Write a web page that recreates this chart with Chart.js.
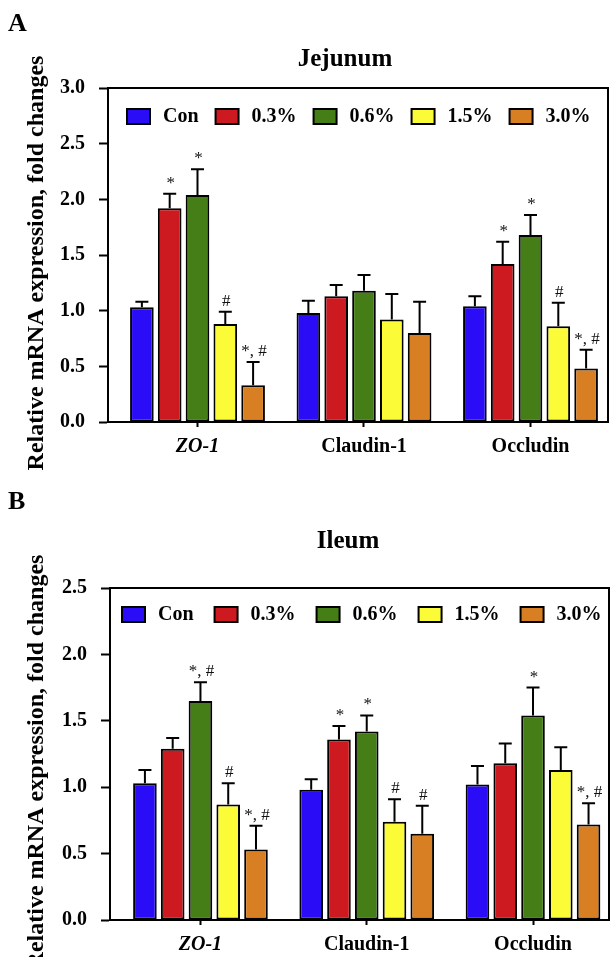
<!DOCTYPE html>
<html>
<head>
<meta charset="utf-8">
<script src="https://cdn.jsdelivr.net/npm/chart.js@4.4.1/dist/chart.umd.min.js"></script>
<style>
  html, body { margin: 0; padding: 0; background: #fff; }
  #wrap { position: relative; width: 611px; height: 957px; overflow: hidden; }
  canvas { position: absolute; left: 0; }
  #c1 { top: 0; }
  #c2 { top: 478px; }
</style>
</head>
<body>
<div id="wrap">
  <canvas id="c1" width="611" height="478"></canvas>
  <canvas id="c2" width="611" height="479"></canvas>
</div>
<script>
const genes = ['ZO-1', 'Claudin-1', 'Occludin'];
const groups = ['Con', '0.3%', '0.6%', '1.5%', '3.0%'];
const colors = ['#2a0cf6', '#cd1a20', '#457d17', '#fbfb38', '#d97f23'];
const yTitle = 'Relative mRNA expression, fold changes';

// rows = groups, columns = ZO-1, Claudin-1, Occludin
const jejunumMean = [
    [1.03, 0.98, 1.04],
    [1.92, 1.13, 1.42],
    [2.04, 1.18, 1.68],
    [0.88, 0.92, 0.86],
    [0.33, 0.80, 0.48]
];
const jejunumErr = [
    [0.05, 0.11, 0.09],
    [0.13, 0.10, 0.20],
    [0.23, 0.14, 0.18],
    [0.11, 0.23, 0.21],
    [0.21, 0.28, 0.17]
];
const jejunumSig = [
    ['', '', ''],
    ['*', '', '*'],
    ['*', '', '*'],
    ['#', '', '#'],
    ['*, #', '', '*, #']
];

const ileumMean = [
    [1.03, 0.98, 1.02],
    [1.29, 1.36, 1.18],
    [1.65, 1.42, 1.54],
    [0.87, 0.74, 1.13],
    [0.53, 0.65, 0.72]
];
const ileumErr = [
    [0.10, 0.08, 0.14],
    [0.08, 0.10, 0.15],
    [0.14, 0.12, 0.21],
    [0.16, 0.17, 0.17],
    [0.18, 0.21, 0.16]
];
const ileumSig = [
    ['', '', ''],
    ['', '*', ''],
    ['*, #', '*', '*'],
    ['#', '#', ''],
    ['*, #', '#', '*, #']
];

const jejunumTicks = [0, 0.5, 1, 1.5, 2, 2.5, 3];
const ileumTicks = [0, 0.5, 1, 1.5, 2, 2.5];

const serif = '"Liberation Serif", "Times New Roman", serif';
Chart.defaults.font.family = serif;
Chart.defaults.color = '#000';

// whiskers (upper only) + significance marks
const errorBars = {
    id: 'errorBars',
    afterDatasetsDraw(chart) {
        const ctx = chart.ctx;
        const y = chart.scales.y;
        ctx.save();
        ctx.strokeStyle = '#000';
        ctx.lineWidth = 2;
        ctx.fillStyle = '#111';
        ctx.font = '17px ' + serif;
        ctx.textAlign = 'center';
        chart.data.datasets.forEach((ds, i) => {
            chart.getDatasetMeta(i).data.forEach((bar, j) => {
                const top = y.getPixelForValue(ds.data[j].y + ds.err[j]);
                ctx.beginPath();
                ctx.moveTo(bar.x, bar.y);
                ctx.lineTo(bar.x, top);
                ctx.moveTo(bar.x - 6.5, top);
                ctx.lineTo(bar.x + 6.5, top);
                ctx.stroke();
                if (ds.sig[j]) {
                    ctx.fillText(ds.sig[j], bar.x + 1, top - 6);
                }
            });
        });
        ctx.restore();
    }
};

// box around plot, legend inside the box, axis title, panel letter and title
const frame = {
    id: 'frame',
    afterDraw(chart, args, o) {
        const ctx = chart.ctx;
        const a = chart.chartArea;
        ctx.save();
        ctx.strokeStyle = '#000';
        ctx.lineWidth = 2;
        ctx.strokeRect(a.left, a.top, a.right - a.left, a.bottom - a.top);

        ctx.font = 'bold 20px ' + serif;
        ctx.textBaseline = 'middle';
        let x = o.legendX;
        chart.data.datasets.forEach(ds => {
            ctx.fillStyle = ds.backgroundColor;
            ctx.fillRect(x, o.legendY - 7, 23, 15);
            ctx.strokeRect(x, o.legendY - 7, 23, 15);
            ctx.fillStyle = '#000';
            ctx.fillText(ds.label, x + 36, o.legendY + 1);
            x += 36 + ctx.measureText(ds.label).width + o.legendGap;
        });

        ctx.textBaseline = 'alphabetic';
        ctx.font = 'bold 26px ' + serif;
        ctx.fillText(o.letter, 8, o.letterY);
        ctx.font = 'bold 25px ' + serif;
        ctx.textAlign = 'center';
        ctx.fillText(o.title, o.titleX, o.titleY);

        // y axis title, a little below the axis centre as in the figure
        ctx.save();
        ctx.translate(43, (a.top + a.bottom) / 2 + 8);
        ctx.rotate(-Math.PI / 2);
        ctx.font = 'bold 24px ' + serif;
        ctx.fillText(yTitle, 0, 0);
        ctx.restore();
        ctx.restore();
    }
};

function makeConfig(means, errs, sigs, yTicks, box) {
    return {
        type: 'bar',
        data: {
            datasets: groups.map((g, i) => ({
                label: g,
                data: means[i].map((v, k) => ({ x: k, y: v })),
                err: errs[i],
                sig: sigs[i],
                backgroundColor: colors[i],
                borderColor: '#000',
                borderWidth: 2,
                borderSkipped: false
            }))
        },
        options: {
            responsive: false,
            animation: false,
            categoryPercentage: 0.835,
            barPercentage: 0.85,
            layout: { padding: { top: box.top, right: box.right, left: 0, bottom: 0 } },
            scales: {
                x: {
                    type: 'linear',
                    offset: false,
                    bounds: 'data',
                    min: box.xMin,
                    max: box.xMax,
                    afterBuildTicks: axis => { axis.ticks = genes.map((g, k) => ({ value: k })); },
                    afterFit: axis => { axis.height = box.xHeight; },
                    grid: { offset: false, drawOnChartArea: false, tickLength: 5, tickWidth: 2, tickColor: '#000' },
                    border: { display: true, color: '#000', width: 2 },
                    ticks: {
                        padding: 8,
                        maxRotation: 0,
                        autoSkip: false,
                        callback: v => genes[v],
                        font: c => ({ family: serif, size: 20, weight: 'bold', style: c.index === 0 ? 'italic' : 'normal' })
                    }
                },
                y: {
                    min: 0,
                    max: yTicks[yTicks.length - 1],
                    afterBuildTicks: axis => { axis.ticks = yTicks.map(v => ({ value: v })); },
                    afterFit: axis => { axis.width = box.yWidth; },
                    grid: { drawOnChartArea: false, tickLength: 9, tickWidth: 2, tickColor: '#000' },
                    border: { display: true, color: '#000', width: 2 },
                    ticks: {
                        padding: 14,
                        callback: v => v.toFixed(1),
                        font: { family: serif, size: 20, weight: 'bold' }
                    }
                }
            },
            plugins: {
                legend: { display: false },
                tooltip: { enabled: false },
                frame: box.frame
            }
        },
        plugins: [errorBars, frame]
    };
}

new Chart(document.getElementById('c1'), makeConfig(jejunumMean, jejunumErr, jejunumSig, jejunumTicks, {
    top: 88, right: 3, xMin: -0.5375, xMax: 2.4655, xHeight: 56, yWidth: 108,
    frame: { legendX: 127, legendY: 116, legendGap: 17, letter: 'A', letterY: 31, title: 'Jejunum', titleX: 345, titleY: 66 }
}));

new Chart(document.getElementById('c2'), makeConfig(ileumMean, ileumErr, ileumSig, ileumTicks, {
    top: 110, right: 2, xMin: -0.544, xMax: 2.457, xHeight: 37, yWidth: 110,
    frame: { legendX: 122, legendY: 136, legendGap: 21, letter: 'B', letterY: 31, title: 'Ileum', titleX: 348, titleY: 70 }
}));
</script>
</body>
</html>
